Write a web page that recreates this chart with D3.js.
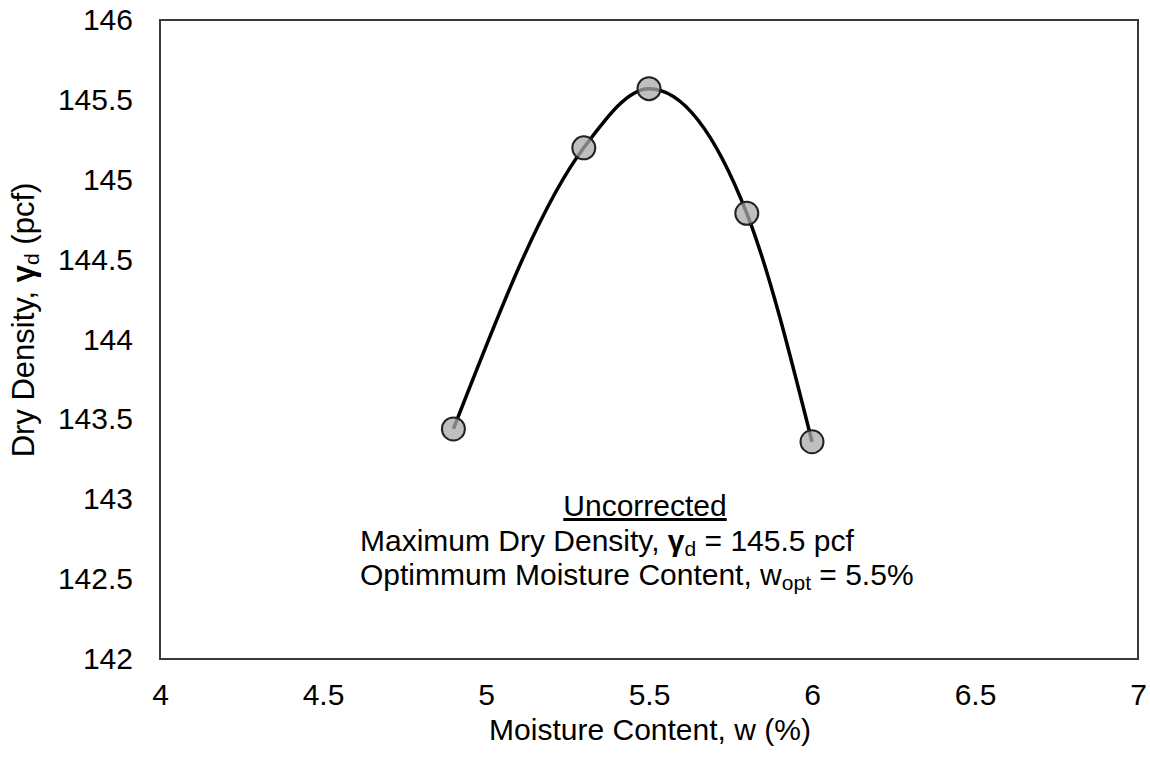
<!DOCTYPE html>
<html>
<head>
<meta charset="utf-8">
<script src="https://cdn.jsdelivr.net/npm/d3@7"></script>
<style>
  html, body { margin: 0; padding: 0; background: #fff; }
  svg text { font-family: "Liberation Sans", Arial, sans-serif; fill: #000; }
</style>
</head>
<body>
<svg id="chart" width="1150" height="757"></svg>
<script>
// Compaction test results
const moisture = [4.9, 5.3, 5.5, 5.8, 6.0];          // w (%)
const dryDensity = [143.44, 145.20, 145.57, 144.79, 143.36]; // γd (pcf)
const xTicks = [4, 4.5, 5, 5.5, 6, 6.5, 7];
const yTicks = [142, 142.5, 143, 143.5, 144, 144.5, 145, 145.5, 146];
const maxDryDensity = 145.5;
const optMoisture = 5.5;

const svg = d3.select("#chart");
const plot = { left: 160, right: 1138, top: 20, bottom: 659 };
const fontSize = 30;
const subSize = 21;

const x = d3.scaleLinear().domain([4, 7]).range([plot.left, plot.right]);
const y = d3.scaleLinear().domain([142, 146]).range([plot.bottom, plot.top]);

const points = moisture.map((w, i) => ({ w, d: dryDensity[i] }));

// Axes: labels only, no tick marks
const xAxis = svg.append("g")
  .attr("transform", `translate(0,${plot.bottom})`)
  .call(d3.axisBottom(x).tickValues(xTicks).tickSize(0).tickPadding(25).tickFormat(d => String(d)));
const yAxis = svg.append("g")
  .attr("transform", `translate(${plot.left},0)`)
  .call(d3.axisLeft(y).tickValues(yTicks).tickSize(0).tickPadding(27).tickFormat(d => String(d)));
[xAxis, yAxis].forEach(g => {
  g.select(".domain").remove();
  g.selectAll("text")
    .style("font-family", '"Liberation Sans", Arial, sans-serif')
    .style("font-size", fontSize + "px")
    .attr("fill", "#000");
});

// Plot frame
svg.append("rect")
  .attr("x", plot.left).attr("y", plot.top)
  .attr("width", plot.right - plot.left).attr("height", plot.bottom - plot.top)
  .attr("fill", "none").attr("stroke", "#3a3a3a").attr("stroke-width", 2);

// Smooth compaction curve through the measured points
const line = d3.line()
  .x(p => x(p.w)).y(p => y(p.d))
  .curve(d3.curveMonotoneX);
svg.append("path")
  .datum(points)
  .attr("d", line)
  .attr("fill", "none")
  .attr("stroke", "#000")
  .attr("stroke-width", 3.5);

// Measured points
svg.append("g").selectAll("circle")
  .data(points).join("circle")
  .attr("cx", p => x(p.w)).attr("cy", p => y(p.d))
  .attr("r", 11.5)
  .attr("fill", "rgba(170,170,170,0.75)")
  .attr("stroke", "#222")
  .attr("stroke-width", 2);

// Axis titles
svg.append("text")
  .attr("x", 650).attr("y", 740)
  .attr("text-anchor", "middle")
  .style("font-size", fontSize + "px")
  .text("Moisture Content, w (%)");

const yTitle = svg.append("text")
  .attr("transform", "translate(34,320) rotate(-90)")
  .attr("text-anchor", "middle")
  .style("font-size", "31px");
yTitle.append("tspan").text("Dry Density, ");
yTitle.append("tspan").attr("font-weight", "bold").text("γ");
yTitle.append("tspan").attr("font-size", subSize + "px").attr("dy", 5).text("d");
yTitle.append("tspan").attr("dy", -5).text(" (pcf)");

// Result annotation
svg.append("text")
  .attr("x", 645).attr("y", 516)
  .attr("text-anchor", "middle")
  .attr("text-decoration", "underline")
  .style("font-size", fontSize + "px")
  .text("Uncorrected");

const line2 = svg.append("text")
  .attr("x", 360).attr("y", 551)
  .style("font-size", fontSize + "px");
line2.append("tspan").text("Maximum Dry Density, ");
line2.append("tspan").attr("font-weight", "bold").text("γ");
line2.append("tspan").attr("font-size", subSize + "px").attr("dy", 5).text("d");
line2.append("tspan").attr("dy", -5).text(` = ${maxDryDensity} pcf`);

const line3 = svg.append("text")
  .attr("x", 360).attr("y", 585)
  .style("font-size", fontSize + "px");
line3.append("tspan").text("Optimmum Moisture Content, w");
line3.append("tspan").attr("font-size", subSize + "px").attr("dy", 5).text("opt");
line3.append("tspan").attr("dy", -5).text(` = ${optMoisture}%`);
</script>
</body>
</html>
